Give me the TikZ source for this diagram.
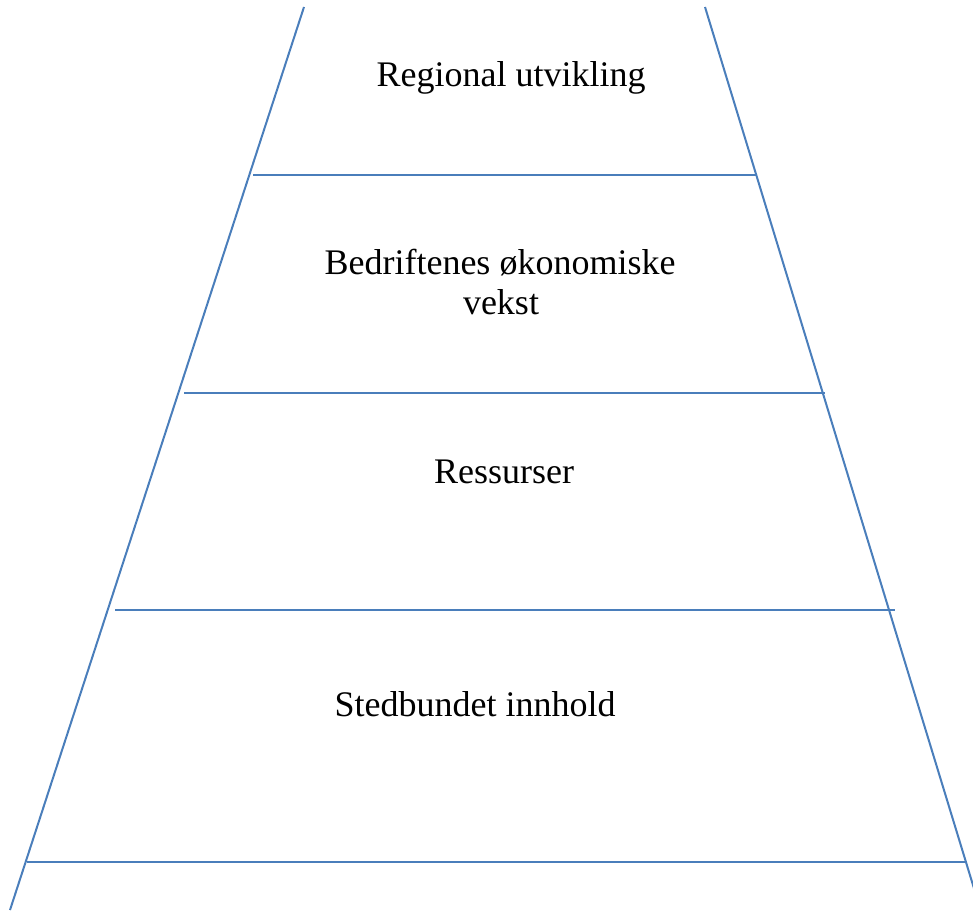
\documentclass[tikz,border=0pt]{standalone}
\usepackage{fontspec}
\setmainfont{Liberation Serif}
\definecolor{lineblue}{HTML}{4A7EBB}
\tikzset{
  edge/.style={draw=lineblue, line width=2pt},
  lbl/.style={anchor=base, inner sep=0pt, font=\fontsize{36}{40}\selectfont, align=center}
}
\begin{document}
\begin{tikzpicture}[x=1pt, y=-1pt]
\useasboundingbox (0,0) rectangle (973,910);
% sides
\coordinate (lt) at (304,7);
\coordinate (lb) at (10,910);
\coordinate (rt) at (705,7);
\coordinate (rb) at (976,895);
\draw[edge] (lt) -- (lb);
\draw[edge] (rt) -- (rb);
% horizontal separators
\coordinate (h1l) at (253,175); \coordinate (h1r) at (757,175);
\coordinate (h2l) at (184,393); \coordinate (h2r) at (825,393);
\coordinate (h3l) at (115,610); \coordinate (h3r) at (895,610);
\coordinate (h4l) at (27,862);  \coordinate (h4r) at (965,862);
\draw[edge] (h1l) -- (h1r);
\draw[edge] (h2l) -- (h2r);
\draw[edge] (h3l) -- (h3r);
\draw[edge] (h4l) -- (h4r);
% labels
\node[lbl] (t1) at (511,86) {Regional utvikling};
\node[lbl] (t2) at (500,274) {Bedriftenes økonomiske};
\node[lbl] (t2b) at (501,314) {vekst};
\node[lbl] (t3) at (504,483) {Ressurser};
\node[lbl] (t4) at (475,716) {Stedbundet innhold};
\end{tikzpicture}
\end{document}
